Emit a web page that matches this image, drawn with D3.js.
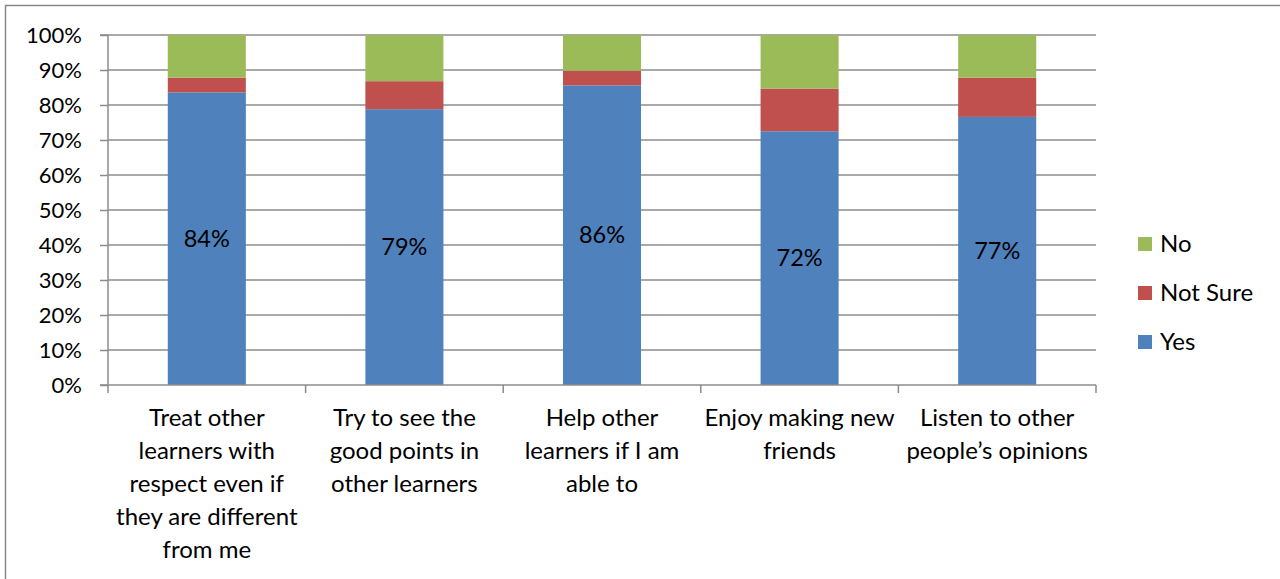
<!DOCTYPE html>
<html><head><meta charset="utf-8">
<script src="https://cdn.jsdelivr.net/npm/d3@7"></script>
<style>
html,body{margin:0;padding:0;background:#fff;}
svg text{font-family:Lato,"Open Sans",sans-serif;fill:#000;}
</style></head>
<body>
<svg id="c" width="1280" height="579"></svg>
<script>
const categories = [
  ["Treat other","learners with","respect even if","they are different","from me"],
  ["Try to see the","good points in","other learners"],
  ["Help other","learners if I am","able to"],
  ["Enjoy making new","friends"],
  ["Listen to other","people\u2019s opinions"]
];
const seriesNames = ["Yes","Not Sure","No"];
const yesValues = [83.6, 78.8, 85.6, 72.5, 76.6];
const notSureValues = [4.2, 8.0, 4.2, 12.2, 11.2];
const noValues = [12.2, 13.2, 10.2, 15.3, 12.2];
const yesLabels = ["84%","79%","86%","72%","77%"];
const yTicks = [0,10,20,30,40,50,60,70,80,90,100];
const colors = {"Yes":"#4F81BD","Not Sure":"#C0504D","No":"#9BBB59"};

const svg = d3.select("#c");
const W = 1280, H = 579;
const L = 108, R = 1096, T = 35, B = 385;

// outer border
svg.append("rect").attr("x",5.5).attr("y",5.5).attr("width",W+10).attr("height",H+10)
  .attr("fill","none").attr("stroke","#888").attr("stroke-width",1.5);

const idx = categories.map((d,i)=>i);
const x = d3.scaleBand().domain(idx).range([L,R]).paddingInner(0.605).paddingOuter(0.3025);
const xb = d3.scaleBand().domain(idx).range([L,R]);
const y = d3.scaleLinear().domain([0,100]).range([B,T]);

// gridlines
svg.append("g").selectAll("line").data(yTicks.filter(t=>t>0)).join("line")
  .attr("x1",L).attr("x2",R).attr("y1",d=>y(d)).attr("y2",d=>y(d))
  .attr("stroke","#8c8c8c").attr("stroke-width",1.5);

// stacked data
const rows = idx.map(i=>({i, "Yes":yesValues[i], "Not Sure":notSureValues[i], "No":noValues[i]}));
const stack = d3.stack().keys(seriesNames)(rows);
svg.append("g").selectAll("g").data(stack).join("g")
  .attr("fill",d=>colors[d.key])
  .selectAll("rect").data(d=>d).join("rect")
  .attr("x",d=>x(d.data.i)).attr("width",x.bandwidth())
  .attr("y",d=>y(d[1])).attr("height",d=>y(d[0])-y(d[1]));

// y axis
const yAxis = d3.axisLeft(y).tickValues(yTicks).tickFormat(d=>d+"%").tickSize(8).tickPadding(18);
const gy = svg.append("g").attr("transform",`translate(${L},0)`).call(yAxis);
gy.select(".domain").attr("stroke","#8c8c8c").attr("stroke-width",1.5).attr("d",`M-8,${T}H0V${B}H-8`);
gy.selectAll(".tick line").attr("stroke","#8c8c8c").attr("stroke-width",1.5);
gy.selectAll(".tick text").style("font-size","22px").style("font-family","Lato,sans-serif").attr("fill","#000");

// x axis line and ticks at boundaries
const gx = svg.append("g");
gx.append("line").attr("x1",L).attr("x2",R).attr("y1",B).attr("y2",B).attr("stroke","#8c8c8c").attr("stroke-width",1.5);
const bounds = idx.map(i=>xb(i)).concat([R]);
gx.selectAll(".bt").data(bounds).join("line").attr("class","bt")
  .attr("x1",d=>d).attr("x2",d=>d).attr("y1",B).attr("y2",B+8)
  .attr("stroke","#8c8c8c").attr("stroke-width",1.5);

// category labels
const cl = svg.append("g").selectAll("text").data(categories).join("text")
  .attr("text-anchor","middle").style("font-size","24px")
  .attr("x",(d,i)=>xb(i)+xb.bandwidth()/2).attr("y",426);
cl.selectAll("tspan").data(d=>d).join("tspan")
  .attr("x",function(){return this.parentNode.getAttribute("x");})
  .attr("dy",(d,j)=>j===0?0:33).text(d=>d);

// data labels
svg.append("g").selectAll("text").data(idx).join("text")
  .attr("text-anchor","middle").style("font-size","23.5px")
  .attr("x",i=>x(i)+x.bandwidth()/2).attr("y",i=>y(yesValues[i]/2)+8)
  .text(i=>yesLabels[i]);

// legend
const legendOrder = ["No","Not Sure","Yes"];
const lg = svg.append("g").selectAll("g").data(legendOrder).join("g")
  .attr("transform",(d,i)=>`translate(1138,${244+i*49})`);
lg.append("rect").attr("x",0).attr("y",-7).attr("width",14).attr("height",14).attr("fill",d=>colors[d]);
lg.append("text").attr("x",22).attr("y",8).style("font-size","24px").text(d=>d);
</script>
</body></html>
